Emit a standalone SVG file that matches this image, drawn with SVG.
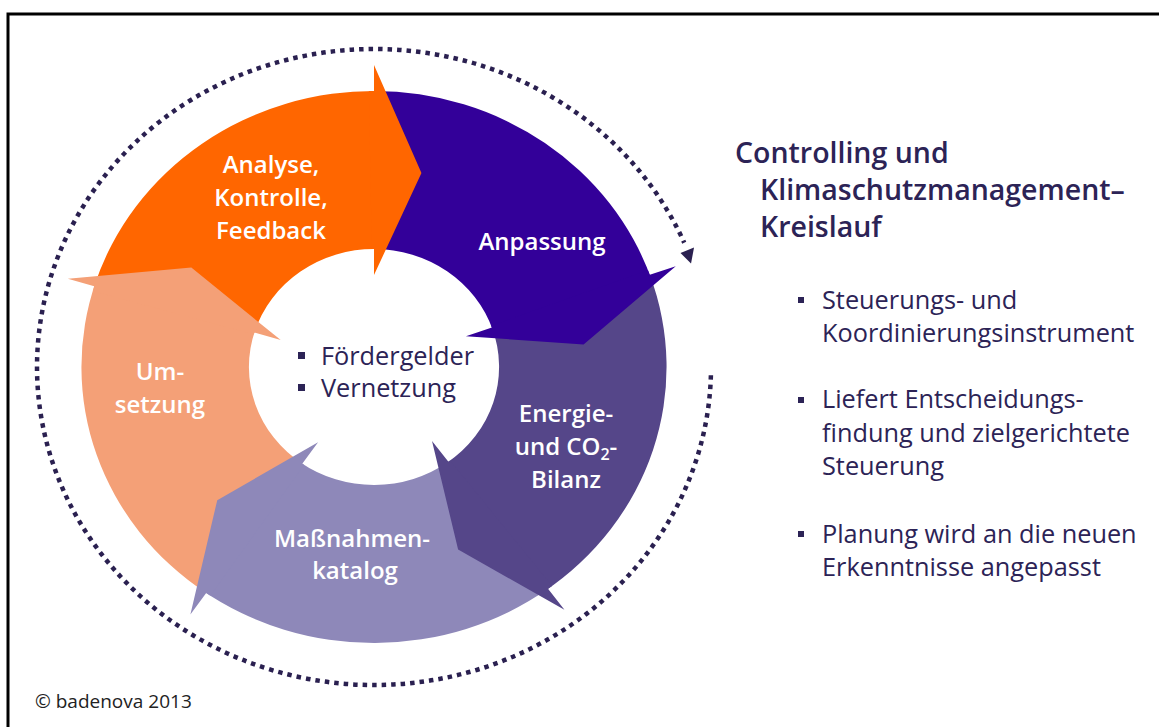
<svg xmlns="http://www.w3.org/2000/svg" width="1159" height="727" viewBox="0 0 1159 727">
<defs>
<style>
.lbl{font-family:"Open Sans","Noto Sans","Liberation Sans",sans-serif;font-weight:600;font-size:24px;fill:#ffffff;text-anchor:middle}
.dark{font-family:"Open Sans","Noto Sans","Liberation Sans",sans-serif;fill:#2c2356}
.title{font-weight:600;font-size:28.5px}
.body{font-size:25.3px}
.bul{fill:#2c2356}
.c1{fill:#ff6600}.c2{fill:#330099}.c3{fill:#554689}.c4{fill:#8e88b9}.c5{fill:#f4a077}
</style>
</defs>
<rect width="1159" height="727" fill="#ffffff"/>
<path d="M8,727 V14 H1159" fill="none" stroke="#000" stroke-width="3"/>

<g id="connectors">
<path d="M710.9,375.3 A337 318 0 1 1 684.2,242.7" fill="none" stroke="#2a2050" stroke-width="4.5" stroke-dasharray="4.5 5"/>
<polygon points="680.5,253 694,247.5 691,263.5" fill="#2a2050"/>
</g>

<g id="bodies">
<path class="c1" d="M94.22,286.31 A292.56 276 0 0 1 379.11,91.04 L376.18,249.02 A125.08 118 0 0 0 254.39,332.50 Z"/>
<path class="c2" d="M374,91 A292.56 276 0 0 1 651.44,279.43 L492.62,329.56 A125.08 118 0 0 0 374,249 Z"/>
<path class="c3" d="M649.78,274.87 A292.56 276 0 0 1 543.89,591.70 L446.63,463.07 A125.08 118 0 0 0 491.91,327.61 Z"/>
<path class="c4" d="M548.02,588.87 A292.56 276 0 0 1 202.04,590.29 L300.48,462.46 A125.08 118 0 0 0 448.40,461.86 Z"/>
<path class="c5" d="M206.19,593.09 A292.56 276 0 0 1 95.76,281.71 L255.04,330.54 A125.08 118 0 0 0 302.26,463.66 Z"/>
</g>

<g id="node-analyse">
<polygon class="c1" points="374,65 421.45,173.1 374,275 374,249 371.82,249.02 368.89,91.04 374,91"/>
<text class="lbl" x="271" y="173">Analyse,</text>
<text class="lbl" x="271" y="206">Kontrolle,</text>
<text class="lbl" x="271" y="239">Feedback</text>
</g>
<g id="node-anpassung">
<polygon class="c2" points="675.76,266.19 583.58,344.47 465.93,336.29 491.91,327.61 491.16,325.68 648.03,270.34 649.78,274.87"/>
<text class="lbl" x="542" y="250">Anpassung</text>
</g>
<g id="node-energie">
<polygon class="c3" points="564.42,609.77 458.11,549.49 432.01,440.96 448.40,461.86 450.14,460.62 552.10,585.96 548.02,588.87"/>
<text class="lbl" x="566" y="422">Energie-</text>
<text class="lbl" x="566" y="455">und CO<tspan font-size="16" dy="5">2</tspan><tspan dy="-5">-</tspan></text>
<text class="lbl" x="566" y="488">Bilanz</text>
</g>
<g id="node-massnahmen">
<polygon class="c4" points="190.39,614.38 217.24,500.16 318.06,442.36 302.26,463.66 304.06,464.83 210.40,595.82 206.19,593.09"/>
<text class="lbl" x="352" y="547">Maßnahmen-</text>
<text class="lbl" x="355" y="579">katalog</text>
</g>
<g id="node-umsetzung">
<polygon class="c5" points="67.87,278.70 191.32,267.5 280.74,340.10 254.39,332.50 253.77,334.47 92.77,290.92 94.22,286.31"/>
<text class="lbl" x="160" y="380">Um-</text>
<text class="lbl" x="160" y="413">setzung</text>
</g>

<g id="node-center">
<rect class="bul" x="298" y="352" width="7" height="7"/>
<rect class="bul" x="298" y="384" width="7" height="7"/>
<text class="dark body" x="321" y="365">Fördergelder</text>
<text class="dark body" x="321" y="397">Vernetzung</text>
</g>

<g id="node-title">
<text class="dark title" x="735" y="163">Controlling und</text>
<text class="dark title" x="760" y="200">Klimaschutzmanagement–</text>
<text class="dark title" x="760" y="237">Kreislauf</text>
</g>

<g id="node-bullets">
<rect class="bul" x="798" y="297" width="6" height="6"/>
<text class="dark body" x="822" y="309">Steuerungs- und</text>
<text class="dark body" x="822" y="342">Koordinierungsinstrument</text>
<rect class="bul" x="798" y="397" width="6" height="6"/>
<text class="dark body" x="822" y="408">Liefert Entscheidungs-</text>
<text class="dark body" x="822" y="442">findung und zielgerichtete</text>
<text class="dark body" x="822" y="475">Steuerung</text>
<rect class="bul" x="798" y="531" width="6" height="6"/>
<text class="dark body" x="822" y="543">Planung wird an die neuen</text>
<text class="dark body" x="822" y="576">Erkenntnisse angepasst</text>
</g>

<g id="copyright">
<text x="35" y="708" font-family="'Open Sans','Noto Sans','Liberation Sans',sans-serif" font-size="19" fill="#222">© badenova 2013</text>
</g>
</svg>
